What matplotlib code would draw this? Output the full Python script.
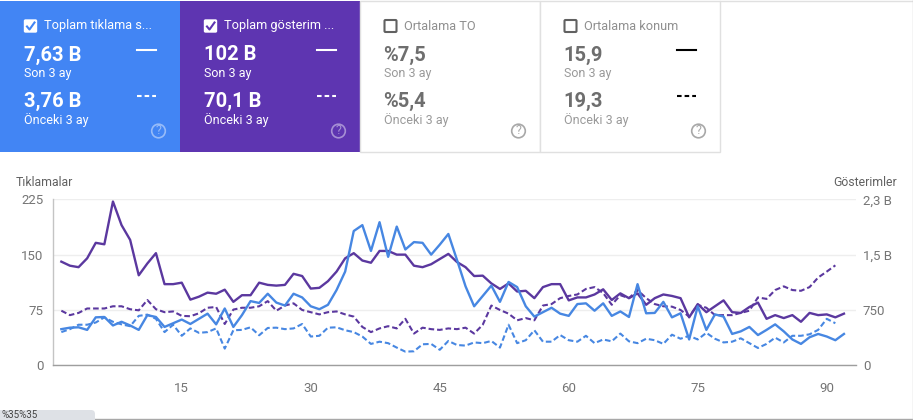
import matplotlib
matplotlib.use("Agg")
import matplotlib.pyplot as plt
from matplotlib.patches import Rectangle, FancyBboxPatch, Circle
from matplotlib.lines import Line2D

plt.rcParams['font.family'] = ['Roboto', 'DejaVu Sans']

clicks_now = [140.5,135,133,145,166,164,222,190,170,122,138,152,110,110,112,89,93,98.5,97,102.5,86,95,95,112,109,108,109,124,121,104,105,114,127,145,152,142,139,155,155,150,150,135,133,137,144,151,140,133,121,121.5,111,103.5,111,100,101,91,106,110,110,88,92,92,96,103,88.5,97.5,91,97.5,82,91,96,94,91,65,83,72,80,88,72,71,79,85,63,68,64,68,59,71,68,69,65,70]
blue_now = [49,51,51.5,48,65,65.5,54,59,54,48,68,65.5,52,57,62,56,63,70,55.5,77,52,68,87,84.5,97,85,81,97,92,80,76,82,102,127,182,190,155,194,147,188,157,167,166,150,163.5,178,143,107,80,94,108,86,113,106,80,66,72,78,70,67,83,84,74,84,67,73,65.5,110,70.5,71,86,65,70.5,35,80,48,69,66,42.5,46,52,41,48,55.5,46,35,29,38,42.5,39,34,42.5]
purple_prev = [74,68,71,77,77,77,80,80,76,74.5,88.5,76,72,73,67,66.5,70.5,78,79,56,75.5,78,78,80,87,74,81,84,75,72,69,72,73,69,66,52,45,50,53,50,63,43,51,49,48,50,49,51,43,55,81,75,70,61,64,61,81,83,91,94,96,103.5,106,98,82,95,91,102,91,83,80,79.5,75,66,82,78,68,68,68,71,74,92,90,102,107,102,101,106,119,127,135.5]
blue_prev = [45,49,55,55,58,65,59,55.5,53,67,68.7,63,45,55,40,50,44,45,50,22.6,47.5,48,51.5,40.7,50.6,51,49,50,56,39,40,51,51.5,47.5,45,39,29,32,30,24,18.5,19,28.5,29,21,33,27.5,26.7,31,30,33,24,55,30,34,47.5,32,32,41,34,32,40,30,35,32.5,43,32.5,30,36,34,29,41.5,36,40,35,44,36,31,32,36.6,30,23.5,29,37.5,31,40,40,42,48,63,57]
x_ticks = [15,30,45,60,75,90]
left_ticks = [0,75,150,225]
right_labels = ['0','750','1,5 B','2,3 B']

BLUE='#4285f4'; PURPLE='#5e35b1'
LBLUE='#4787e2'; LPURPLE='#5b389f'
W,H=913,420
fig=plt.figure(figsize=(W/100,H/100),dpi=100,facecolor='white')
bg=fig.add_axes([0,0,1,1]); bg.set_xlim(0,W); bg.set_ylim(H,0); bg.axis('off')

def card(x0,color,title,v1,v2,selected,linecol):
    w=180
    if selected:
        bg.add_patch(Rectangle((x0,1),w,151,fc=color,ec='none'))
        tc='white'; sc='#ffffff'; q=(1,1,1,0.45); vc='white'
    else:
        bg.add_patch(Rectangle((x0,0.5),w,151,fc='white',ec='#e0e0e0',lw=1))
        tc='#8f8f8f'; sc='#9a9a9a'; q='#a8a8a8'; vc='#6e6e6e'
    bx=x0+24.5
    if selected:
        bg.add_patch(FancyBboxPatch((bx,20),12,12,boxstyle='round,pad=0,rounding_size=1',fc='white',ec='white',lw=1))
        bg.add_line(Line2D([bx+2.5,bx+5,bx+10],[26.5,29.5,22.5],color=color,lw=1.5))
    else:
        bg.add_patch(FancyBboxPatch((bx,20),12,12,boxstyle='round,pad=0,rounding_size=1',fc='none',ec='#616161',lw=1.5))
    bg.text(x0+44,26,title,color=tc,fontsize=9.2,va='center',ha='left')
    bg.text(x0+23.5,55,v1,color=vc,fontsize=14.5,fontweight='bold',va='center')
    bg.text(x0+23.5,74,'Son 3 ay',color=sc,fontsize=9,va='center')
    bg.text(x0+23.5,101,v2,color=vc,fontsize=14.5,fontweight='bold',va='center')
    bg.text(x0+23.5,120,'Önceki 3 ay',color=sc,fontsize=9,va='center')
    if linecol:
        bg.add_line(Line2D([x0+137,x0+156],[49.5,49.5],color=linecol,lw=1.5))
        bg.add_line(Line2D([x0+137,x0+156],[96,96],color=linecol,lw=1.5,dashes=(2.2,1.45)))
    bg.add_patch(Circle((x0+158.5,131),6.8,fc='none',ec=q,lw=1.2))
    bg.text(x0+158.5,131,'?',color=q,fontsize=9,ha='center',va='center')

card(0,BLUE,'Toplam tıklama s...','7,63 B','3,76 B',True,'white')
card(180,PURPLE,'Toplam gösterim ...','102 B','70,1 B',True,'white')
card(360,None,'Ortalama TO','%7,5','%5,4',False,None)
card(540,None,'Ortalama konum','15,9','19,3',False,'black')

ax=fig.add_axes([53/W,1-365.3/H,(856-53)/W,166/H],facecolor='none')
days=lambda s:list(range(1,len(s)+1))
ax.plot(days(blue_prev),blue_prev,color=LBLUE,lw=1.5,dashes=(2.7,1.4))
ax.plot(days(purple_prev),purple_prev,color=LPURPLE,lw=1.5,dashes=(2.7,1.4))
ax.plot(days(clicks_now),clicks_now,color=LPURPLE,lw=1.7)
ax.plot(days(blue_now),blue_now,color=LBLUE,lw=1.7)
ax.set_xlim(0.03,93.4); ax.set_ylim(0,225)
ax.set_yticks(left_ticks); ax.set_xticks(x_ticks)
ax.grid(axis='y',color='#eeeeee',lw=1); ax.set_axisbelow(True)
for s in ['top','right']: ax.spines[s].set_visible(False)
ax.spines['left'].set_color('#c4c4c4'); ax.spines['bottom'].set_color('#9e9e9e')
ax.spines['left'].set_linewidth(1); ax.spines['bottom'].set_linewidth(1)
ax.tick_params(axis='both',length=0,colors='#757575',labelsize=9.5)
ax.tick_params(axis='x',pad=12)
ax.tick_params(axis='y',pad=7)
ax2=ax.twinx(); ax2.set_ylim(0,225); ax2.set_yticks(left_ticks); ax2.set_yticklabels(right_labels)
for s in ax2.spines.values(): s.set_visible(False)
ax2.tick_params(axis='y',length=0,colors='#757575',labelsize=9.5,pad=5)

bg.text(16,182.5,'Tıklamalar',color='#616161',fontsize=8.8,va='center')
bg.text(833,182.5,'Gösterimler',color='#616161',fontsize=8.8,va='center')
bg.add_line(Line2D([720,W],[0.5,0.5],color='#e0e0e0',lw=1))
bg.add_line(Line2D([0,W],[418.5,418.5],color='#a8a8a8',lw=1))
bg.add_line(Line2D([912.5,912.5],[0,H],color='#d0d0d0',lw=1))
bg.add_patch(FancyBboxPatch((-10,410),105,20,boxstyle='round,pad=0,rounding_size=4',fc='#dee1e6',ec='none',zorder=5))
bg.text(1,414.5,'%35%35',color='#444444',fontsize=7,va='center',zorder=6)
fig.savefig('out.png',dpi=100)
